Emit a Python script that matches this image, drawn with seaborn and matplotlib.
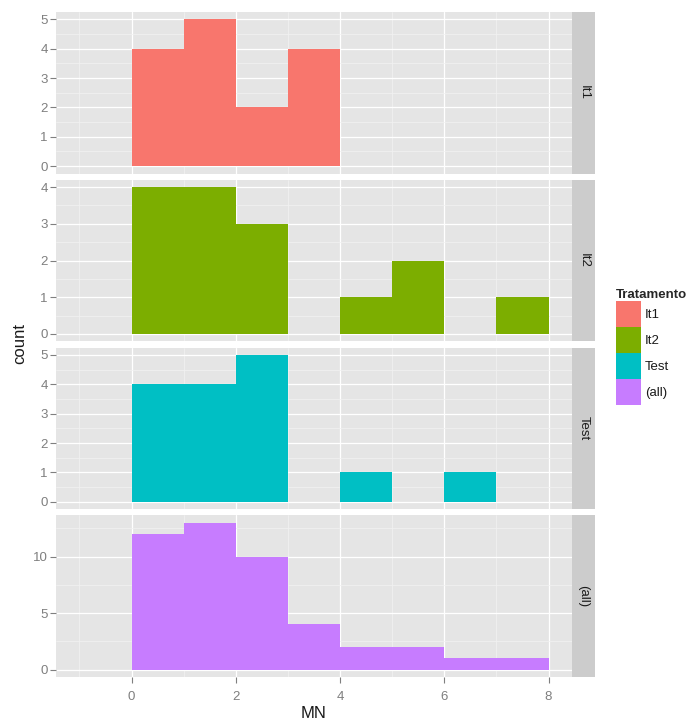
import numpy as np
import pandas as pd
import seaborn as sns
import matplotlib.pyplot as plt
from matplotlib.patches import Patch

# Counts per unit-width bin of MN, bins starting at these left edges
bin_left = [0, 1, 2, 3, 4, 5, 6, 7]
it1_counts = [4, 5, 2, 4, 0, 0, 0, 0]
it2_counts = [4, 4, 3, 0, 1, 2, 0, 1]
test_counts = [4, 4, 5, 0, 1, 0, 1, 0]

groups = ["It1", "It2", "Test", "(all)"]
colors = ["#F8766D", "#7CAE00", "#00BFC4", "#C77CFF"]
y_major = [[0, 1, 2, 3, 4, 5], [0, 1, 2, 3, 4], [0, 1, 2, 3, 4, 5], [0, 5, 10]]
x_major = [0, 2, 4, 6, 8]

all_counts = [a + b + c for a, b, c in zip(it1_counts, it2_counts, test_counts)]
counts = {"It1": it1_counts, "It2": it2_counts, "Test": test_counts, "(all)": all_counts}

rows = []
for g in groups:
    for left, c in zip(bin_left, counts[g]):
        rows.append({"Tratamento": g, "MN": left + 0.5, "n": c})
df = pd.DataFrame(rows)

sns.set_theme(style="darkgrid")
plt.rcParams["font.family"] = ["Liberation Sans", "DejaVu Sans"]

W, H = 699, 724
fig = plt.figure(figsize=(W / 100, H / 100), dpi=100)

left_px, right_px, strip_px = 56, 572, 595
top0, ph, gap = 12, 161.5, 6.3
grey_txt = "#7F7F7F"

for i, g in enumerate(groups):
    top = top0 + i * (ph + gap)
    ax = fig.add_axes([left_px / W, 1 - (top + ph) / H, (right_px - left_px) / W, ph / H])
    ax.set_facecolor("#E5E5E5")
    sub = df[df["Tratamento"] == g]
    sns.histplot(data=sub, x="MN", weights="n", binwidth=1, binrange=(0, 8), color=colors[i],
                 alpha=1, linewidth=0, element="bars", ax=ax, zorder=3)
    ymax = max(counts[g])
    ylo, yhi = -0.05 * ymax, 1.05 * ymax
    ys = y_major[i]
    step = ys[1] - ys[0]
    ax.set_yticks(ys)
    ax.set_yticks([v + step / 2 for v in ys if v + step / 2 < yhi], minor=True)
    ax.set_xticks(x_major)
    ax.set_xticks([-1, 1, 3, 5, 7], minor=True)
    ax.set_xlim(-1.45, 8.45)
    ax.set_ylim(ylo, yhi)
    ax.grid(which="major", color="white", linewidth=0.9, zorder=1)
    ax.grid(which="minor", color="#F2F2F2", linewidth=0.5, zorder=1)
    ax.set_axisbelow(True)
    for s in ax.spines.values():
        s.set_visible(False)
    ax.tick_params(axis="y", which="major", left=True, length=4, width=0.8, color=grey_txt,
                   labelcolor=grey_txt, labelsize=9.5, pad=2)
    ax.tick_params(axis="both", which="minor", length=0)
    ax.set_ylabel("")
    ax.set_xlabel("")
    if i < 3:
        ax.tick_params(axis="x", which="major", bottom=False, labelbottom=False)
    else:
        ax.tick_params(axis="x", which="major", bottom=True, length=4, width=0.8, color=grey_txt,
                       labelcolor=grey_txt, labelsize=9.5, pad=6)
        ax.set_xlabel("MN", fontsize=12, color="#1A1A1A", labelpad=2)

    # facet strip on the right
    sax = fig.add_axes([right_px / W, 1 - (top + ph) / H, (strip_px - right_px) / W, ph / H])
    sax.set_facecolor("#CCCCCC")
    sax.set_xticks([])
    sax.set_yticks([])
    for s in sax.spines.values():
        s.set_visible(False)
    sax.text(0.5, 0.5, g, rotation=-90, ha="center", va="center", fontsize=9.5,
             color="#1A1A1A", transform=sax.transAxes)

fig.text(20 / W, 1 - 343 / H, "count", rotation=90, ha="center", va="center",
         fontsize=12, color="#1A1A1A")

handles = [Patch(facecolor=c, edgecolor="none") for c in colors]
leg = fig.legend(handles, groups, title="Tratamento", loc="upper left",
                 bbox_to_anchor=(616 / W, 1 - 289 / H), borderaxespad=0, borderpad=0,
                 frameon=False, fontsize=9.5, handlelength=1.9, handleheight=2.65,
                 labelspacing=0, handletextpad=0.3,
                 title_fontproperties={"weight": "bold", "size": 9.5})
leg._legend_box.align = "left"
for t in leg.get_texts():
    t.set_color("#1A1A1A")

fig.savefig("out.png", dpi=100)
